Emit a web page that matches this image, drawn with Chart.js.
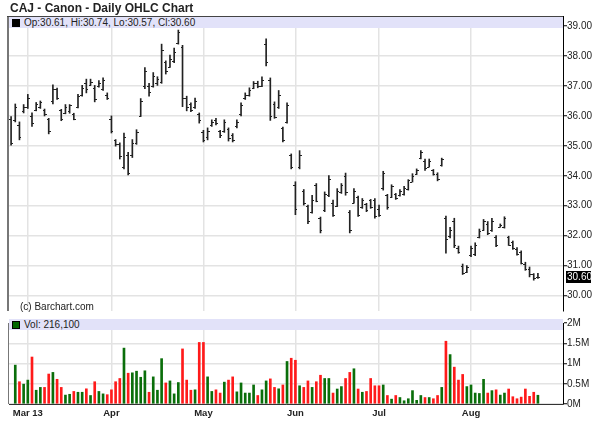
<!DOCTYPE html>
<html>
<head>
<meta charset="utf-8">
<script src="https://cdn.jsdelivr.net/npm/chart.js@4.4.1/dist/chart.umd.min.js"></script>
<style>
  body { margin: 0; width: 600px; height: 439px; position: relative; overflow: hidden; background: #fff; font-family: "Liberation Sans", Arial, sans-serif; color: #222; }
  canvas { position: absolute; left: 0; }
  #priceChart { top: 0; }
  #volumeChart { top: 317px; }
  #title { position: absolute; left: 10px; top: 1px; font-weight: bold; font-size: 12px; }
  .band { position: absolute; left: 9px; width: 554px; height: 11px; background: #e2e2f9; font-size: 10px; line-height: 11px; white-space: nowrap; }
  .band i { display: inline-block; width: 6px; height: 6px; margin: 0 4px 0 3px; vertical-align: -0.5px; border: 0.5px solid #000; }
  #priceBand { top: 17px; }
  #volBand { top: 319px; }
  #copy { position: absolute; left: 20px; top: 301px; font-size: 10px; }
</style>
</head>
<body>
<canvas id="priceChart" width="600" height="317"></canvas>
<canvas id="volumeChart" width="600" height="122"></canvas>
<div id="title">CAJ - Canon - Daily OHLC Chart</div>
<div class="band" id="priceBand"><i style="background:#000"></i>Op:30.61, Hi:30.74, Lo:30.57, Cl:30.60</div>
<div class="band" id="volBand"><i style="background:#006600"></i>Vol: 216,100</div>
<div id="copy">(c) Barchart.com</div>
<script>
// trading days, Feb 25 - Aug 23 2013
const dates = [
  '2/25','2/26','2/27','2/28',
  '3/1','3/4','3/5','3/6','3/7','3/8','3/11','3/12','3/13','3/14','3/15','3/18','3/19','3/20','3/21','3/22','3/25','3/26','3/27','3/28',
  '4/1','4/2','4/3','4/4','4/5','4/8','4/9','4/10','4/11','4/12','4/15','4/16','4/17','4/18','4/19','4/22','4/23','4/24','4/25','4/26','4/29','4/30',
  '5/1','5/2','5/3','5/6','5/7','5/8','5/9','5/10','5/13','5/14','5/15','5/16','5/17','5/20','5/21','5/22','5/23','5/24','5/28','5/29','5/30','5/31',
  '6/3','6/4','6/5','6/6','6/7','6/10','6/11','6/12','6/13','6/14','6/17','6/18','6/19','6/20','6/21','6/24','6/25','6/26','6/27','6/28',
  '7/1','7/2','7/3','7/5','7/8','7/9','7/10','7/11','7/12','7/15','7/16','7/17','7/18','7/19','7/22','7/23','7/24','7/25','7/26','7/29','7/30','7/31',
  '8/1','8/2','8/5','8/6','8/7','8/8','8/9','8/12','8/13','8/14','8/15','8/16','8/19','8/20','8/21','8/22','8/23'
];
const monthLabels = ['Mar 13', 'Apr', 'May', 'Jun', 'Jul', 'Aug'];

const openPrices = [
  35.9, 35.85, 35.7, 36.15, 36.3, 36.0, 36.2, 36.3, 36.2, 35.9,
  36.5, 36.9, 36.2, 36.1, 36.15, 36.05, 36.3, 36.7, 37.1, 37.05,
  36.95, 37.0, 36.9, 36.7, 35.9, 35.2, 35.05, 34.3, 34.7, 34.7,
  35.1, 36.0, 37.0, 37.0, 37.0, 37.1, 37.15, 37.8, 37.65, 37.85,
  38.45, 38.3, 36.6, 36.4, 36.3, 36.05, 35.45, 35.3, 35.7, 35.85,
  35.5, 35.5, 35.55, 35.35, 35.65, 36.05, 36.6, 36.7, 36.95, 37.1,
  37.0, 38.4, 37.2, 36.4, 36.3, 35.6, 35.8, 34.7, 33.7, 34.3,
  33.5, 33.0, 32.8, 33.7, 32.6, 32.85, 33.35, 33.1, 33.0, 33.45,
  34.0, 32.8, 33.1, 33.3, 32.95, 33.05, 33.2, 33.2, 32.9, 33.6,
  33.35, 33.3, 33.4, 33.35, 33.4, 33.55, 33.8, 34.05, 34.6, 34.5,
  34.3, 34.2, 34.05, 34.35, 32.6, 32.0, 32.5, 31.6, 31.0, 30.8,
  31.35, 31.4, 31.95, 32.2, 32.4, 32.2, 31.95, 32.3, 32.3, 31.95,
  31.8, 31.55, 31.45, 31.05, 30.9, 30.7, 30.61
];
const highPrices = [
  35.98, 36.4, 35.8, 36.38, 36.72, 36.1, 36.45, 36.5, 36.23, 35.92,
  37.04, 36.93, 36.22, 36.38, 36.38, 36.09, 36.72, 37.02, 37.23, 37.23,
  37.02, 37.18, 37.27, 36.77, 36.0, 35.21, 35.1, 35.43, 34.78, 35.21,
  35.54, 36.58, 37.62, 37.09, 37.45, 37.31, 38.4, 37.84, 38.03, 38.27,
  38.87, 38.36, 36.66, 36.44, 36.6, 36.1, 35.52, 35.6, 35.87, 35.92,
  35.52, 35.87, 35.6, 35.41, 35.87, 36.44, 36.77, 36.94, 37.15, 37.16,
  37.31, 38.58, 37.27, 36.47, 36.85, 35.63, 36.44, 34.73, 33.8, 34.84,
  33.54, 33.02, 33.35, 33.74, 32.62, 33.46, 34.01, 33.19, 33.57, 33.74,
  34.09, 32.84, 33.57, 33.32, 33.24, 33.08, 33.21, 33.24, 33.02, 34.15,
  33.38, 33.7, 33.41, 33.54, 33.65, 33.87, 34.07, 34.23, 34.84, 34.56,
  34.56, 34.21, 34.1, 34.59, 32.65, 32.28, 32.58, 31.65, 31.05, 31.0,
  31.65, 31.76, 32.22, 32.54, 32.47, 32.58, 32.0, 32.39, 32.63, 31.98,
  31.82, 31.6, 31.49, 31.11, 30.95, 30.73, 30.74
];
const lowPrices = [
  35.02, 35.8, 35.2, 36.1, 36.25, 35.65, 36.17, 36.25, 36.0, 35.4,
  36.4, 36.55, 35.84, 36.07, 36.09, 35.87, 36.27, 36.66, 36.77, 37.02,
  36.47, 36.96, 36.85, 36.55, 35.43, 34.99, 34.56, 34.23, 34.03, 34.61,
  35.05, 35.98, 36.91, 36.66, 36.96, 37.02, 37.09, 37.4, 37.62, 37.78,
  38.4, 36.31, 36.17, 36.14, 36.25, 35.76, 35.13, 35.2, 35.65, 35.7,
  35.27, 35.45, 35.16, 35.13, 35.6, 36.0, 36.55, 36.66, 36.91, 36.94,
  36.98, 37.67, 35.85, 35.92, 36.25, 35.13, 35.76, 34.23, 32.7, 34.23,
  33.02, 32.4, 32.75, 33.13, 32.09, 32.8, 33.3, 32.64, 32.97, 33.41,
  33.35, 32.09, 33.08, 32.64, 32.91, 32.8, 32.91, 32.58, 32.64, 33.52,
  32.88, 33.27, 33.21, 33.32, 33.35, 33.52, 33.79, 34.04, 34.56, 34.18,
  34.29, 34.02, 33.83, 34.32, 31.41, 31.92, 31.6, 31.41, 30.7, 30.76,
  31.3, 31.33, 31.92, 32.17, 32.03, 32.14, 31.63, 32.28, 32.25, 31.67,
  31.54, 31.35, 31.05, 30.84, 30.62, 30.51, 30.57
];
const closePrices = [
  35.1, 36.3, 35.3, 36.3, 36.6, 35.75, 36.4, 36.45, 36.05, 35.5,
  36.9, 36.6, 35.9, 36.3, 36.35, 35.9, 36.65, 36.95, 36.9, 37.15,
  36.55, 37.1, 37.2, 36.6, 35.5, 35.05, 34.65, 35.3, 34.1, 35.1,
  35.45, 36.5, 37.5, 36.8, 37.35, 37.25, 38.2, 37.5, 37.9, 38.15,
  38.8, 36.6, 36.3, 36.2, 36.5, 35.85, 35.2, 35.5, 35.8, 35.75,
  35.35, 35.8, 35.25, 35.2, 35.8, 36.35, 36.7, 36.85, 37.1, 37.0,
  37.2, 37.8, 36.0, 35.95, 36.7, 35.2, 36.35, 34.3, 32.9, 34.7,
  33.1, 32.5, 33.2, 33.15, 32.2, 33.4, 33.9, 32.7, 33.5, 33.7,
  33.45, 32.2, 33.5, 32.7, 33.2, 32.85, 32.95, 32.65, 32.7, 34.1,
  32.95, 33.65, 33.25, 33.5, 33.6, 33.85, 34.0, 34.2, 34.8, 34.25,
  34.5, 34.05, 33.9, 34.55, 31.9, 32.2, 31.7, 31.45, 30.75, 30.95,
  31.6, 31.7, 32.15, 32.5, 32.1, 32.5, 31.7, 32.35, 32.6, 31.7,
  31.6, 31.4, 31.1, 30.9, 30.7, 30.58, 30.6
];
const volumes = [
  null, 960000, 550000, 490000, 590000, 1160000, 340000, 410000, 410000, 740000,
  780000, 610000, 410000, 220000, 240000, 310000, 290000, 290000, 375000, 210000,
  550000, 310000, 250000, 230000, 350000, 550000, 630000, 1380000, 760000, 770000,
  810000, 660000, 820000, 290000, 670000, 340000, 1120000, 520000, 570000, 250000,
  530000, 1360000, 590000, 340000, 350000, 1520000, 1520000, 670000, 310000, 350000,
  270000, 540000, 590000, 670000, 300000, 520000, 270000, 270000, 470000, 210000,
  350000, 570000, 620000, 410000, 375000, 470000, 1050000, 1130000, 1080000, 450000,
  410000, 570000, 410000, 550000, 710000, 630000, 630000, 270000, 370000, 430000,
  630000, 780000, 870000, 370000, 290000, 310000, 630000, 450000, 450000, 470000,
  210000, 120000, 210000, 160000, 80000, 130000, 330000, 90000, 210000, 160000,
  160000, 130000, 210000, 410000, 1550000, 1220000, 910000, 590000, 730000, 430000,
  470000, 270000, 260000, 610000, 270000, 330000, 350000, 220000, 270000, 370000,
  180000, 130000, 170000, 370000, 190000, 290000, 216100
];
// 1 = up day (green volume), 0 = down day (red volume)
const volumeUp = [
  1, 1, 0, 1, 1, 0, 1, 1, 0, 0,
  1, 0, 0, 1, 1, 0, 1, 1, 0, 1,
  0, 1, 1, 0, 0, 0, 0, 1, 0, 1,
  1, 1, 1, 0, 1, 1, 1, 0, 1, 1,
  1, 0, 0, 0, 1, 0, 0, 1, 1, 0,
  0, 1, 0, 0, 1, 1, 1, 1, 1, 0,
  1, 1, 0, 0, 1, 0, 1, 0, 0, 1,
  0, 0, 1, 0, 0, 1, 1, 0, 1, 1,
  0, 0, 1, 0, 1, 0, 0, 0, 0, 1,
  0, 1, 0, 1, 1, 1, 1, 1, 1, 0,
  1, 0, 0, 1, 0, 1, 0, 0, 0, 1,
  1, 1, 1, 1, 0, 1, 0, 1, 1, 0,
  0, 0, 0, 0, 0, 0, 1
];

// first trading day of each month gets a grid line and label
const monthStarts = [];
dates.forEach((d, i) => {
  if (i > 0 && d.split('/')[0] !== dates[i - 1].split('/')[0]) monthStarts.push(i);
});

const gridColor = '#e3e3e3';
const xRange = { min: -0.5, max: 132 };

const monthTicks = scale => {
  scale.ticks = monthStarts.map(v => ({ value: v }));
};

// open / close ticks of the OHLC bars
const ohlcTicks = {
  id: 'ohlcTicks',
  afterDatasetsDraw(chart) {
    const { ctx, scales: { x, y } } = chart;
    ctx.save();
    ctx.strokeStyle = '#222';
    ctx.lineWidth = 1;
    ctx.beginPath();
    openPrices.forEach((o, i) => {
      const px = Math.round(x.getPixelForValue(i));
      const yo = Math.round(y.getPixelForValue(o)) + 0.5;
      const yc = Math.round(y.getPixelForValue(closePrices[i])) + 0.5;
      ctx.moveTo(px - 2, yo); ctx.lineTo(px, yo);
      ctx.moveTo(px, yc); ctx.lineTo(px + 2, yc);
    });
    ctx.stroke();

    // last close marker on the axis
    const last = closePrices[closePrices.length - 1];
    const ly = Math.round(y.getPixelForValue(last));
    ctx.fillStyle = '#000';
    ctx.fillRect(chart.chartArea.right + 3, ly - 6, 25, 12);
    ctx.fillStyle = '#fff';
    ctx.font = '10px "Liberation Sans", Arial';
    ctx.textBaseline = 'middle';
    ctx.fillText(last.toFixed(2), chart.chartArea.right + 4, ly);

    // panel frame
    const { left, top, bottom } = chart.chartArea;
    ctx.fillStyle = '#777';
    ctx.fillRect(left - 2, top, 2, bottom - top);
    ctx.fillStyle = '#444';
    ctx.fillRect(left - 2, top, chart.chartArea.right - left + 2, 1);
    ctx.restore();
  }
};

new Chart(document.getElementById('priceChart'), {
  type: 'bar',
  data: {
    datasets: [{
      data: dates.map((d, i) => ({ x: i, y: [lowPrices[i], highPrices[i]] })),
      backgroundColor: '#222',
      barThickness: 1
    }]
  },
  options: {
    responsive: false,
    animation: false,
    layout: { padding: { left: 9, top: 16, right: 0, bottom: 1 } },
    plugins: { legend: { display: false }, tooltip: { enabled: false } },
    scales: {
      x: {
        type: 'linear', min: xRange.min, max: xRange.max, offset: false,
        afterBuildTicks: monthTicks,
        afterFit: s => { s.height = 0; },
        ticks: { display: false },
        grid: { color: gridColor, lineWidth: 1.5, drawTicks: false, offset: false },
        border: { display: false }
      },
      y: {
        position: 'right', min: 29.48, max: 39.34,
        afterFit: s => { s.width = 37; },
        ticks: { stepSize: 1, includeBounds: false, padding: 0, color: '#222',
          font: { family: '"Liberation Sans", Arial', size: 10 },
          callback: v => v.toFixed(2) },
        grid: { color: gridColor, lineWidth: 1.5, tickLength: 4, tickColor: '#000', tickWidth: 1 },
        border: { display: true, color: '#000', width: 1 }
      }
    }
  },
  plugins: [ohlcTicks]
});

const volumeFrame = {
  id: 'volumeFrame',
  afterDraw(chart) {
    const { ctx, chartArea: { left, right, top, bottom } } = chart;
    ctx.save();
    ctx.fillStyle = '#000';
    ctx.fillRect(left, top - 1, right - left, 2);
    ctx.fillStyle = '#777';
    ctx.fillRect(left - 1, top, 1, bottom - top);
    ctx.restore();
  }
};

new Chart(document.getElementById('volumeChart'), {
  type: 'bar',
  data: {
    datasets: [{
      data: volumes.map((v, i) => ({ x: i, y: v })),
      backgroundColor: volumeUp.map(u => u ? '#0a6e0a' : '#ff1a1a'),
      barThickness: 2
    }]
  },
  options: {
    responsive: false,
    animation: false,
    layout: { padding: { left: 9, top: 1, right: 0, bottom: 0 } },
    plugins: { legend: { display: false }, tooltip: { enabled: false } },
    scales: {
      x: {
        type: 'linear', min: xRange.min, max: xRange.max, offset: false,
        afterBuildTicks: monthTicks,
        afterFit: s => { s.height = 35; },
        ticks: { padding: 4, color: '#222', maxRotation: 0, autoSkip: false,
          font: { family: '"Liberation Sans", Arial', size: 9.5, weight: 'bold' },
          callback: (v, i) => monthLabels[i] },
        grid: { color: gridColor, lineWidth: 1.5, drawTicks: false, offset: false },
        border: { display: true, color: '#333', width: 1 }
      },
      y: {
        position: 'right', min: 0, max: 2000000,
        afterFit: s => { s.width = 37; },
        ticks: { stepSize: 500000, padding: 0, color: '#222',
          font: { family: '"Liberation Sans", Arial', size: 10 },
          callback: v => (v / 1000000) + 'M' },
        grid: { color: gridColor, lineWidth: 1.5, tickLength: 4, tickColor: '#000', tickWidth: 1 },
        border: { display: true, color: '#000', width: 1 }
      }
    }
  },
  plugins: [volumeFrame]
});
</script>
</body>
</html>
